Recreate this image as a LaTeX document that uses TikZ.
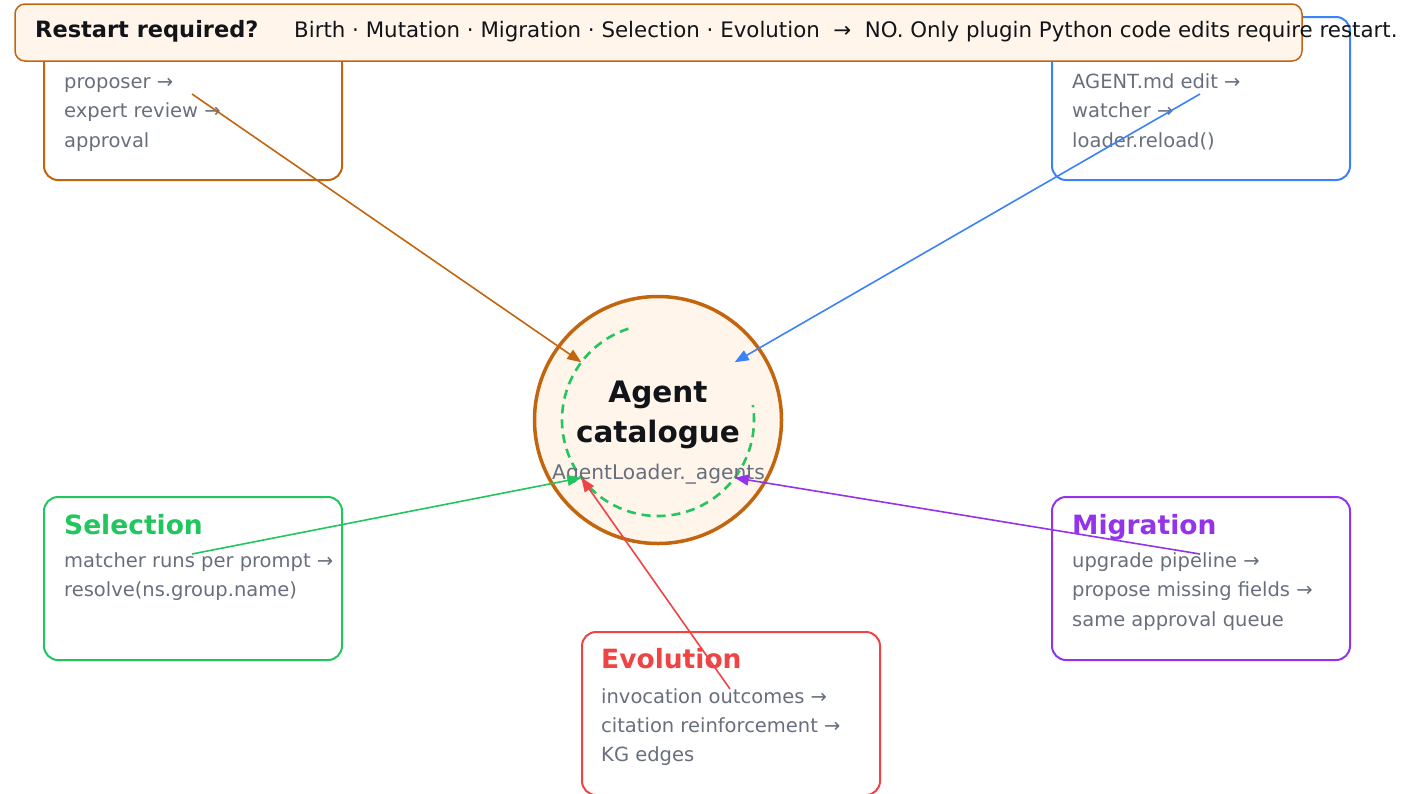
\documentclass[tikz,border=0pt]{standalone}
\usepackage{fontspec}
\setmainfont{DejaVu Sans}
\usetikzlibrary{arrows.meta}

\definecolor{birthc}{HTML}{C2650F}
\definecolor{reloadc}{HTML}{3B82F6}
\definecolor{selectc}{HTML}{22C55E}
\definecolor{migratec}{HTML}{9333EA}
\definecolor{evolvec}{HTML}{EF4444}
\definecolor{creamc}{HTML}{FFF5EB}
\definecolor{notec}{HTML}{676F7D}
\definecolor{inkc}{HTML}{111418}

\tikzset{
  stage/.style={draw=#1, line width=2pt, rounded corners=14pt,
    minimum width=298pt, minimum height=163pt, inner sep=0pt},
  title/.style={anchor=base west, inner sep=0pt, text=#1,
    font=\fontsize{26.5}{30}\selectfont\bfseries},
  note/.style={anchor=base west, inner sep=0pt, text=notec,
    font=\fontsize{19.5}{24}\selectfont},
  flow/.style={draw=#1, fill=#1, line width=1.6pt,
    -{Triangle[length=14pt,width=11pt]}},
}

\begin{document}
\begin{tikzpicture}[x=1pt, y=-1pt]
    \useasboundingbox (0,0) rectangle (1416,793);

    % the five stages
    \node[stage=birthc] (birth) at (193,98.5) {};
    \node[stage=reloadc] (reload) at (1201,98.5) {};
    \node[stage=selectc] (select) at (193,578.5) {};
    \node[stage=migratec] (migrate) at (1201,578.5) {};
    \node[stage=evolvec] (evolve) at (731,713.5) {};

    \node[note] (birth-l1) at (64,88) {proposer →};
    \node[note] (birth-l2) at (64,117.5) {expert review →};
    \node[note] (birth-l3) at (64,147) {approval};

    \node[note] (reload-l1) at (1072,88) {AGENT.md edit →};
    \node[note] (reload-l2) at (1072,117.5) {watcher →};
    \node[note] (reload-l3) at (1072,147) {loader.reload()};

    \node[title=selectc] (select-t) at (64,534) {Selection};
    \node[note] (select-l1) at (64,567) {matcher runs per prompt →};
    \node[note] (select-l2) at (64,596.5) {resolve(ns.group.name)};

    \node[title=migratec] (migrate-t) at (1072,534) {Migration};
    \node[note] (migrate-l1) at (1072,567) {upgrade pipeline →};
    \node[note] (migrate-l2) at (1072,596.5) {propose missing fields →};
    \node[note] (migrate-l3) at (1072,626) {same approval queue};

    \node[title=evolvec] (evolve-t) at (601,668) {Evolution};
    \node[note] (evolve-l1) at (601,703) {invocation outcomes →};
    \node[note] (evolve-l2) at (601,732) {citation reinforcement →};
    \node[note] (evolve-l3) at (601,761) {KG edges};

    % catalogue in the middle
    \node[circle, draw=birthc, fill=creamc, line width=3.5pt,
      minimum size=247pt, inner sep=0pt] (cat) at (658,420) {};
    \draw[selectc, line width=2.6pt, dash pattern=on 9pt off 6pt]
      ([shift={(108:96pt)}]cat.center) arc[start angle=108, end angle=369, radius=96pt];
    \node[anchor=base, inner sep=0pt, text=inkc, font=\fontsize{29.5}{34}\selectfont\bfseries]
      (cat-t1) at (658,402) {Agent};
    \node[anchor=base, inner sep=0pt, text=inkc, font=\fontsize{29.5}{34}\selectfont\bfseries]
      (cat-t2) at (658,442) {catalogue};
    \node[anchor=base, inner sep=0pt, text=notec, font=\fontsize{20.2}{24}\selectfont]
      (cat-t3) at (658.5,479) {AgentLoader.\_agents};

    % flows into the catalogue
    \coordinate (birth-out) at (192,94);
    \coordinate (reload-out) at (1200,94);
    \coordinate (select-out) at (192,554);
    \coordinate (migrate-out) at (1200,554);
    \coordinate (evolve-out) at (730,689);
    \coordinate (ring-nw) at ([shift={(143:96pt)}]cat.center);
    \coordinate (ring-ne) at ([shift={(37:96pt)}]cat.center);
    \coordinate (ring-sw) at ([shift={(217:96pt)}]cat.center);
    \coordinate (ring-se) at ([shift={(323:96pt)}]cat.center);

    \draw[flow=birthc] (birth-out) -- (ring-nw);
    \draw[flow=reloadc] (reload-out) -- (ring-ne);
    \draw[flow=selectc] (select-out) -- (ring-sw);
    \draw[flow=migratec] (migrate-out) -- (ring-se);
    \draw[flow=evolvec] (evolve-out) -- (ring-sw);

    % restart banner on top
    \node[draw=birthc, fill=creamc, line width=1.5pt, rounded corners=10pt,
      minimum width=1287pt, minimum height=57pt, inner sep=0pt] (restart) at (658.5,32.5) {};
    \node[anchor=base west, inner sep=0pt, text=inkc, font=\fontsize{22.5}{26}\selectfont\bfseries]
      (restart-q) at (35,37) {Restart required?};
    \node[anchor=base west, inner sep=0pt, text=inkc, font=\fontsize{21.35}{26}\selectfont]
      (restart-a) at (294,37) {Birth · Mutation · Migration · Selection · Evolution~~→~~NO. Only plugin Python code edits require restart.};
\end{tikzpicture}
\end{document}
